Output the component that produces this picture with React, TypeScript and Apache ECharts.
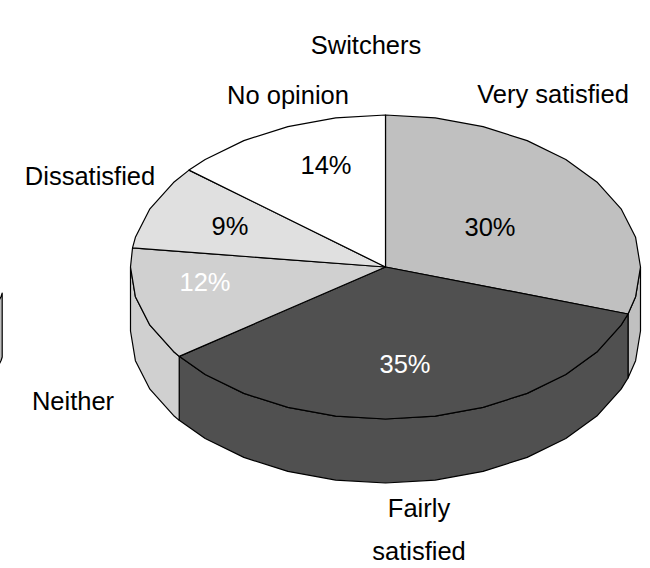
import React, { useEffect, useRef } from "react";
import * as echarts from "echarts";

const categories = ["Very satisfied", "Fairly satisfied", "Neither", "Dissatisfied", "No opinion"];
const shares = [30, 35, 12, 9, 14];
const sliceColors = ["#c0c0c0", "#505050", "#d0d0d0", "#e0e0e0", "#ffffff"];
const valueLabelColors = ["#000000", "#ffffff", "#ffffff", "#000000", "#000000"];
const valueLabelPos = [[490, 227], [405, 364], [205, 282], [230, 226], [326, 165]];
const categoryLabels = [
  { text: "Very satisfied", x: 553, y: 94 },
  { text: "Fairly\nsatisfied", x: 419, y: 529 },
  { text: "Neither", x: 73, y: 401 },
  { text: "Dissatisfied", x: 90, y: 176 },
  { text: "No opinion", x: 288, y: 95 },
];
const title = "Switchers";

const CX = 385.5;
const CY = 267;
const RX = 255;
const RY = 152;
const DEPTH = 64;
const STEP = 11.25;

// Neighbouring pie, only its right rim reaches into the frame.
const neighbourRim = { cx: -244, cy: 267, rx: 250, ry: 150, depth: 64, start: 100, end: 126 };

const pt = (deg: number, dy = 0, g = { cx: CX, cy: CY, rx: RX, ry: RY }) => {
  const a = (deg * Math.PI) / 180;
  return [g.cx + g.rx * Math.sin(a), g.cy - g.ry * Math.cos(a) + dy];
};

// Chart software flattens ellipses into short chords, so arcs are sampled coarsely.
const arcAngles = (a0: number, a1: number) => {
  const list = [a0];
  let k = Math.floor(a0 / STEP) + 1;
  while (k * STEP < a1 - 0.01) {
    list.push(k * STEP);
    k++;
  }
  list.push(a1);
  return list;
};

const bounds = () => {
  const total = shares.reduce((s, v) => s + v, 0);
  let acc = 0;
  return shares.map((v) => {
    const a0 = (acc / total) * 360;
    acc += v;
    return [a0, (acc / total) * 360];
  });
};

const lineStyle = (fill: string) => ({ fill, stroke: "#000", lineWidth: 1.2, lineJoin: "round" as const });

export default function App() {
  const ref = useRef<HTMLDivElement>(null);
  useEffect(() => {
    if (!ref.current) return;
    const chart = echarts.init(ref.current, undefined, { renderer: "svg" });
    const spans = bounds();
    const baseFont = { fontFamily: "Liberation Sans, Arial, sans-serif", fontSize: 25.5 };

    chart.setOption({
      animation: false,
      backgroundColor: "#ffffff",
      title: {
        text: title,
        left: 361,
        top: 27,
        textAlign: "center",
        textStyle: { ...baseFont, color: "#000", fontWeight: "normal" },
      },
      series: [
        {
          type: "custom",
          coordinateSystem: "none",
          silent: true,
          data: shares.map((v, i) => [i, v]),
          z: 1,
          renderItem: (params: any, api: any) => {
            const [a0, a1] = spans[api.value(0)];
            // Only the part of the rim facing the viewer (90..270 degrees) shows.
            const from = Math.max(a0, 90);
            const to = Math.min(a1, 270);
            if (from >= to) return { type: "group", children: [] };
            const angles = arcAngles(from, to);
            const top = angles.map((d) => pt(d));
            const bottom = angles.map((d) => pt(d, DEPTH)).reverse();
            return {
              type: "polygon",
              shape: { points: [...top, ...bottom] },
              style: lineStyle(sliceColors[api.value(0)]),
            };
          },
        },
        {
          type: "custom",
          coordinateSystem: "none",
          silent: true,
          data: shares.map((v, i) => [i, v]),
          z: 2,
          renderItem: (params: any, api: any) => {
            const i = api.value(0);
            const [a0, a1] = spans[i];
            const points = [[CX, CY], ...arcAngles(a0, a1).map((d) => pt(d))];
            return {
              type: "group",
              children: [
                { type: "polygon", shape: { points }, style: lineStyle(sliceColors[i]) },
                {
                  type: "text",
                  style: {
                    ...baseFont,
                    text: `${api.value(1)}%`,
                    x: valueLabelPos[i][0],
                    y: valueLabelPos[i][1],
                    fill: valueLabelColors[i],
                    align: "center",
                    verticalAlign: "middle",
                  },
                  z2: 10,
                },
              ],
            };
          },
        },
        {
          type: "custom",
          coordinateSystem: "none",
          silent: true,
          data: [[0]],
          z: 1,
          renderItem: () => {
            const g = neighbourRim;
            const angles = arcAngles(g.start, g.end);
            const top = angles.map((d) => pt(d, 0, g));
            const bottom = angles.map((d) => pt(d, g.depth, g)).reverse();
            return {
              type: "polygon",
              shape: { points: [...top, ...bottom] },
              style: lineStyle("#c0c0c0"),
            };
          },
        },
      ],
      graphic: categoryLabels.map((l, i) => ({
        type: "text",
        silent: true,
        z: 5,
        style: {
          ...baseFont,
          text: l.text,
          x: l.x,
          y: l.y,
          fill: "#000",
          align: "center",
          verticalAlign: "middle",
          lineHeight: 43,
        },
      })),
    });
    return () => chart.dispose();
  }, []);
  return <div ref={ref} style={{ width: 650, height: 568, position: "absolute", left: 0, top: 0 }} />;
}
